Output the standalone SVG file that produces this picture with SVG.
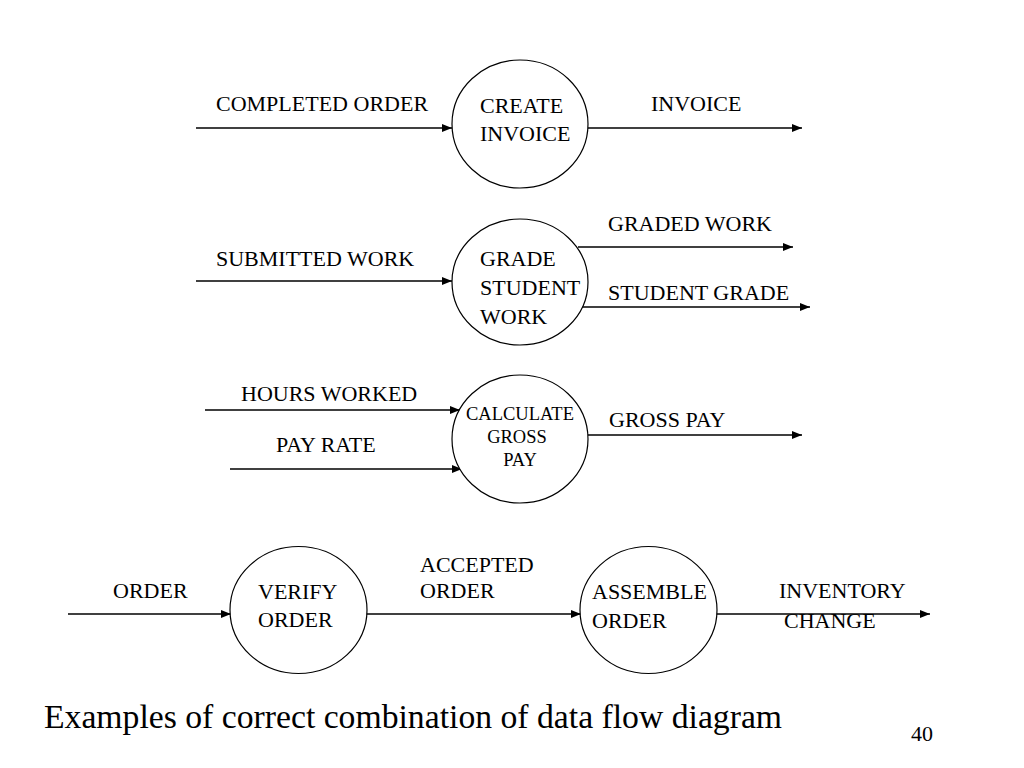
<svg xmlns="http://www.w3.org/2000/svg" width="1024" height="768" viewBox="0 0 1024 768">
<style>
.t{font-family:"Liberation Serif","Times New Roman",serif;font-size:22px;fill:#000}
.s{font-size:18.5px}
.c{font-size:33.7px}
.p{fill:#fff;stroke:#000;stroke-width:1.2}
.f{stroke:#000;stroke-width:1.6;fill:none;marker-end:url(#ah)}
</style>
<defs>
<marker id="ah" markerUnits="userSpaceOnUse" markerWidth="10" markerHeight="8" refX="10" refY="4" orient="auto">
<path d="M0,0 L10,4 L0,8 Z" fill="#000"/>
</marker>
</defs>
<rect width="1024" height="768" fill="#fff"/>
<g id="connectors">
<line class="f" x1="196" y1="128" x2="452" y2="128"/>
<line class="f" x1="588" y1="128" x2="802" y2="128"/>
<line class="f" x1="196" y1="281" x2="452" y2="281"/>
<line class="f" x1="578" y1="247" x2="793" y2="247"/>
<line class="f" x1="578" y1="307" x2="810" y2="307"/>
<line class="f" x1="205" y1="410" x2="460" y2="410"/>
<line class="f" x1="230" y1="469" x2="462" y2="469"/>
<line class="f" x1="588" y1="435" x2="802" y2="435"/>
<line class="f" x1="68" y1="614" x2="231" y2="614"/>
<line class="f" x1="366" y1="614" x2="581" y2="614"/>
<line class="f" x1="716" y1="614" x2="930" y2="614"/>
</g>
<g id="labels">
<text class="t" x="216" y="111">COMPLETED ORDER</text>
<text class="t" x="651" y="111">INVOICE</text>
<text class="t" x="216" y="266">SUBMITTED WORK</text>
<text class="t" x="608" y="231">GRADED WORK</text>
<text class="t" x="608" y="300">STUDENT GRADE</text>
<text class="t" x="241" y="401">HOURS WORKED</text>
<text class="t" x="276" y="452">PAY RATE</text>
<text class="t" x="609" y="427">GROSS PAY</text>
<text class="t" x="113" y="598">ORDER</text>
<text class="t" x="420" y="572">ACCEPTED</text>
<text class="t" x="420" y="598">ORDER</text>
<text class="t" x="779" y="598">INVENTORY</text>
<text class="t" x="784" y="628">CHANGE</text>
</g>
<g id="create-invoice">
<ellipse class="p" cx="520" cy="124" rx="68" ry="64"/>
<text class="t" x="480" y="113">CREATE</text>
<text class="t" x="480" y="141">INVOICE</text>
</g>
<g id="grade-student-work">
<ellipse class="p" cx="520" cy="282" rx="68" ry="63"/>
<text class="t" x="480" y="266">GRADE</text>
<text class="t" x="480" y="295">STUDENT</text>
<text class="t" x="480" y="324">WORK</text>
</g>
<g id="calculate-gross-pay">
<ellipse class="p" cx="520" cy="439" rx="68" ry="64"/>
<text class="t s" x="520" y="420" text-anchor="middle">CALCULATE</text>
<text class="t s" x="517" y="443" text-anchor="middle">GROSS</text>
<text class="t s" x="520" y="466" text-anchor="middle">PAY</text>
</g>
<g id="verify-order">
<ellipse class="p" cx="298.5" cy="610" rx="68.5" ry="63.5"/>
<text class="t" x="258" y="599">VERIFY</text>
<text class="t" x="258" y="627">ORDER</text>
</g>
<g id="assemble-order">
<ellipse class="p" cx="648.5" cy="610" rx="68.5" ry="63.5"/>
<text class="t" x="592" y="599">ASSEMBLE</text>
<text class="t" x="592" y="628">ORDER</text>
</g>
<g id="caption">
<text class="t c" x="44" y="728">Examples of correct combination of data flow diagram</text>
<text class="t" x="911" y="741">40</text>
</g>
</svg>
